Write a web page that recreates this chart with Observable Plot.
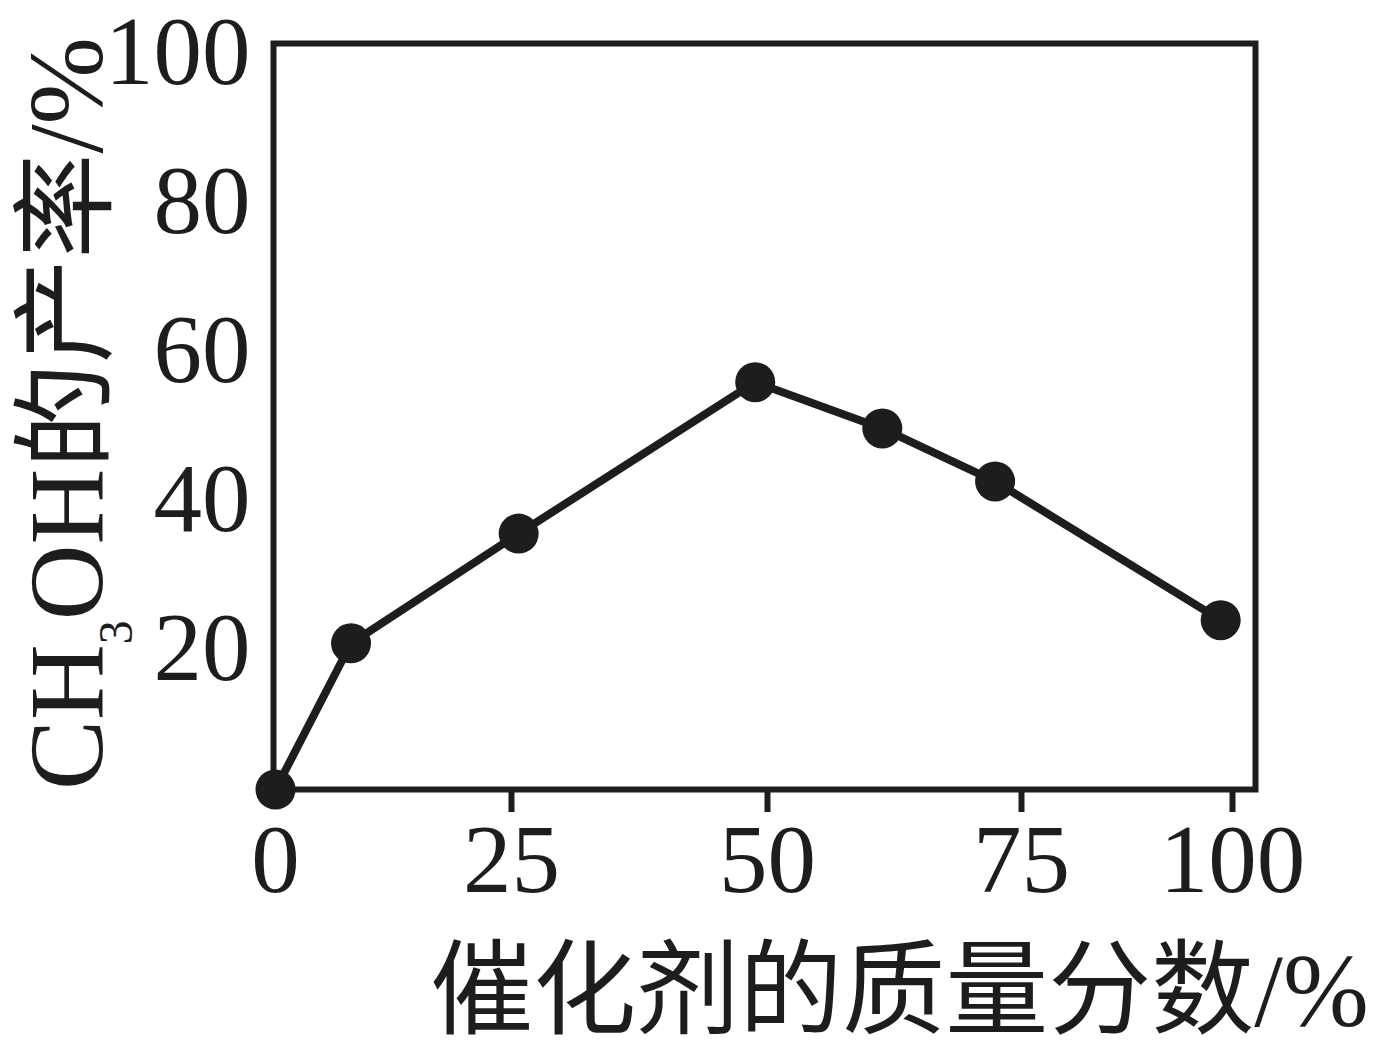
<!DOCTYPE html>
<html>
<head>
<meta charset="utf-8">
<script src="https://cdn.jsdelivr.net/npm/d3@7"></script>
<script src="https://cdn.jsdelivr.net/npm/@observablehq/plot@0.6"></script>
<style>
  html, body { margin: 0; padding: 0; background: #ffffff; }
</style>
</head>
<body>
<div id="chart"></div>
<script>
// ---- data ----
const massFraction = [0, 8, 25.7, 48.8, 61.3, 72.4, 98.6];     // 催化剂的质量分数 / %
const methanolYield = [0, 19.6, 34.3, 54.6, 48.4, 41.3, 22.7];  // CH3OH 的产率 / %
const xTickValues = [0, 25, 50, 75, 100];
const xTickMarkValues = [25, 50, 75, 100];
const yTickValues = [20, 40, 60, 80, 100];
const xTitle = "催化剂的质量分数/%";
const yTitle = "CH₃OH的产率/%";

const points = massFraction.map((x, i) => ({x, y: methanolYield[i]}));
const ink = "#1d1d1d";
const fontStack = "'Liberation Serif', 'Noto Sans CJK SC', serif";

const chart = Plot.plot({
  width: 1386,
  height: 1055,
  marginLeft: 273,
  marginRight: 131,
  marginTop: 43,
  marginBottom: 266,
  style: {fontFamily: fontStack, fontSize: "97px", color: ink, background: "#ffffff"},
  // the reference's x axis is hand-spaced, so the scale is piecewise linear
  x: {type: "linear", domain: xTickValues, range: [275, 511, 767, 1021, 1232]},
  y: {domain: [0, 100], range: [789, 43]},
  marks: [
    Plot.frame({stroke: ink, strokeWidth: 6}),
    Plot.axisX(xTickMarkValues, {tickSize: 23, stroke: ink, strokeWidth: 6, fill: null, label: null}),
    Plot.axisX(xTickValues, {tickSize: 0, tickPadding: 34, fill: ink, fontSize: 97, label: null}),
    Plot.axisY(yTickValues, {tickSize: 0, tickPadding: 23, dy: 9, fill: ink, fontSize: 97, label: null}),
    Plot.line(points, {x: "x", y: "y", stroke: ink, strokeWidth: 8}),
    Plot.dot(points, {x: "x", y: "y", r: 20, fill: ink, stroke: "none"}),
    Plot.text([xTitle], {text: d => d, frameAnchor: "bottom", textAnchor: "middle", dx: 135, dy: 204, lineAnchor: "middle", fontSize: 103, fill: ink}),
    Plot.text([yTitle], {text: d => d, frameAnchor: "left", textAnchor: "middle", rotate: -90, dx: -205, dy: -3, lineAnchor: "middle", fontSize: 105, fill: ink})
  ]
});

// render the subscript 3 of CH3OH as a real lowered tspan
d3.select(chart).selectAll("text").filter(function () {
  return this.textContent.includes("₃");
}).each(function () {
  const t = d3.select(this);
  const [before, after] = this.textContent.split("₃");
  t.text(null);
  t.append("tspan").text(before);
  t.append("tspan").attr("font-size", 48).attr("dy", 30).text("3");
  t.append("tspan").attr("dy", -30).text(after);
});

document.getElementById("chart").appendChild(chart);
</script>
</body>
</html>
